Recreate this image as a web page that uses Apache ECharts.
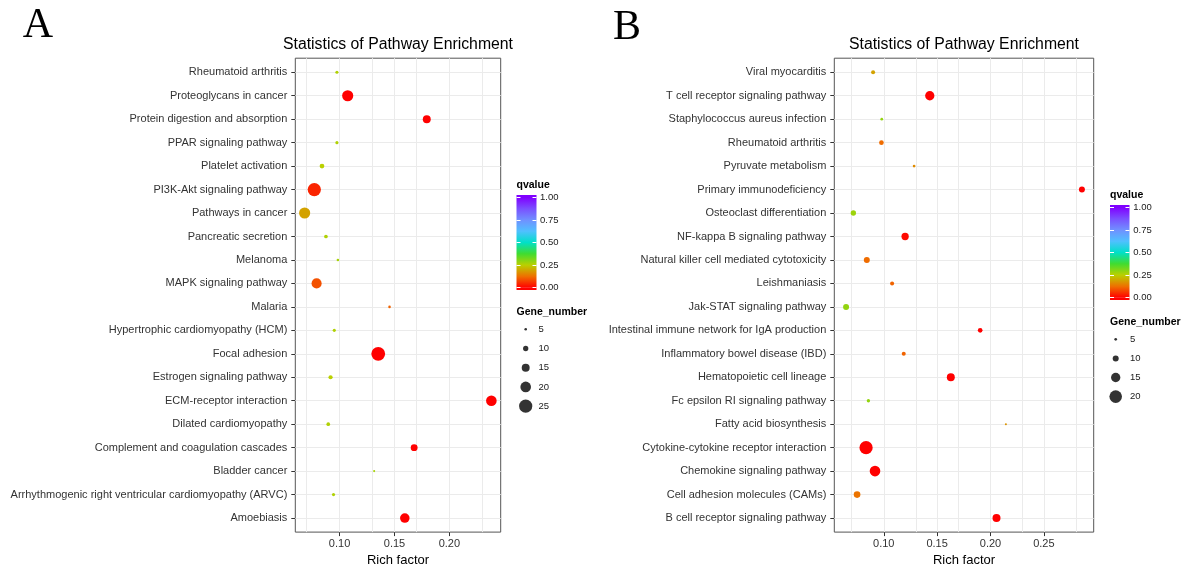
<!DOCTYPE html>
<html><head><meta charset="utf-8">
<script src="https://cdn.jsdelivr.net/npm/echarts@6/dist/echarts.min.js"></script>
<style>html,body{margin:0;padding:0;background:#fff}#c{width:1183px;height:572px}</style>
</head><body><div id="c"></div>
<script>
// ---------- Panel A data (top to bottom as shown) ----------
const categoriesA = [
  'Rheumatoid arthritis','Proteoglycans in cancer','Protein digestion and absorption',
  'PPAR signaling pathway','Platelet activation','PI3K-Akt signaling pathway',
  'Pathways in cancer','Pancreatic secretion','Melanoma','MAPK signaling pathway',
  'Malaria','Hypertrophic cardiomyopathy (HCM)','Focal adhesion','Estrogen signaling pathway',
  'ECM-receptor interaction','Dilated cardiomyopathy','Complement and coagulation cascades',
  'Bladder cancer','Arrhythmogenic right ventricular cardiomyopathy (ARVC)','Amoebiasis'
];
const richFactorA = [0.0976,0.1074,0.1794,0.0976,0.0840,0.0770,0.0682,0.0876,0.0985,0.0791,
                     0.1455,0.0952,0.1352,0.0918,0.2382,0.0897,0.1679,0.1315,0.0945,0.1594];
const geneNumberA = [6,21,15,6,9,25,21,7,5,19, 5,6,26,8,20,7,13,4,6,18];
const qvalueA     = [0.26,0.0,0.0,0.26,0.25,0.04,0.19,0.26,0.27,0.09,
                     0.11,0.26,0.0,0.25,0.0,0.26,0.0,0.27,0.26,0.0];

// ---------- Panel B data ----------
const categoriesB = [
  'Viral myocarditis','T cell receptor signaling pathway','Staphylococcus aureus infection',
  'Rheumatoid arthritis','Pyruvate metabolism','Primary immunodeficiency',
  'Osteoclast differentiation','NF-kappa B signaling pathway','Natural killer cell mediated cytotoxicity',
  'Leishmaniasis','Jak-STAT signaling pathway','Intestinal immune network for IgA production',
  'Inflammatory bowel disease (IBD)','Hematopoietic cell lineage','Fc epsilon RI signaling pathway',
  'Fatty acid biosynthesis','Cytokine-cytokine receptor interaction','Chemokine signaling pathway',
  'Cell adhesion molecules (CAMs)','B cell receptor signaling pathway'
];
const richFactorB = [0.0900,0.1431,0.0981,0.0978,0.1284,0.2856,0.0715,0.1200,0.0841,0.1078,
                     0.0647,0.1903,0.1187,0.1628,0.0856,0.2144,0.0834,0.0918,0.0750,0.2056];
const geneNumberB = [7,15,5,8,5,10,9,12,10,7, 10,8,7,13,6,4,21,17,11,13];
const qvalueB     = [0.19,0.0,0.29,0.12,0.16,0.0,0.28,0.01,0.12,0.11,
                     0.29,0.0,0.11,0.0,0.29,0.17,0.0,0.0,0.13,0.0];

// ---------- tick / legend labels ----------
const xTicksA = [0.10,0.15,0.20];
const xTicksB = [0.10,0.15,0.20,0.25];
const xGridA = [0.075,0.10,0.125,0.15,0.175,0.20,0.225];
const xGridB = [0.075,0.10,0.125,0.15,0.175,0.20,0.225,0.25,0.275];
const qTicks = [0,0.25,0.5,0.75,1];
const sizeBreaksA = [5,10,15,20,25];
const sizeBreaksB = [5,10,15,20];

// ---------- styles ----------
const qColors = ['#FF0000','#EE7000','#BAD000','#40DC30','#00E0C8','#50C0FF','#7090FF','#7A50FF','#8000FF'];
const FONT = 'Liberation Sans';
const AXIS_TXT = '#333';
function sizeScale(g0, d0, g1, d1){ return g => Math.max(1.5, d0 + (g - g0) * (d1 - d0) / (g1 - g0)); }
const sizeA = sizeScale(5, 2.6, 25, 13.3);
const sizeB = sizeScale(5, 2.7, 20, 12.6);
function expand(vals){ const lo=Math.min(...vals), hi=Math.max(...vals), r=hi-lo; return [lo-0.05*r, hi+0.05*r]; }
const [xMinA, xMaxA] = expand(richFactorA);
const [xMinB, xMaxB] = expand(richFactorB);
const nA = categoriesA.length, nB = categoriesB.length;
const rowsA = categoriesA.map((c,i)=>i), rowsB = categoriesB.map((c,i)=>i);
const Q_PAD = 0.5/19;

function mainX(gi, mn, mx, ticks){
  return { type:'value', gridIndex:gi, min:mn, max:mx,
    axisLine:{show:false,onZero:false}, splitLine:{show:false},
    axisTick:{show:true,length:4,lineStyle:{color:AXIS_TXT},customValues:ticks},
    axisLabel:{customValues:ticks, formatter:v=>ticks.some(t=>Math.abs(t-v)<1e-9)?v.toFixed(2):'',
      margin:6,fontSize:11,color:AXIS_TXT,fontFamily:FONT},
    name:'Rich factor', nameLocation:'middle', nameGap:19,
    nameTextStyle:{fontSize:13,color:'#000',fontFamily:FONT} };
}
function mainY(gi, cats, rows){
  const n = cats.length;
  return { type:'value', gridIndex:gi, min:-0.6, max:n-1+0.6,
    axisLine:{show:false,onZero:false}, splitLine:{show:false},
    axisTick:{show:true,length:4,lineStyle:{color:AXIS_TXT},customValues:rows},
    axisLabel:{customValues:rows, formatter:v=>(Number.isInteger(v)&&v>=0&&v<n)?cats[n-1-v]:'',
      margin:8,fontSize:11,color:AXIS_TXT,fontFamily:FONT} };
}
function mainSeries(gi, cats, rf, gn, qv, sz){
  const n = cats.length;
  return { type:'scatter', xAxisIndex:gi, yAxisIndex:gi, z:3, symbol:'circle', silent:true,
    data: cats.map((c,i)=>[rf[i], n-1-i, qv[i], gn[i]]),
    symbolSize: v => sz(v[3]), itemStyle:{opacity:1} };
}
function gridSeries(gi, xs, rows){
  return { type:'scatter', xAxisIndex:gi, yAxisIndex:gi, data:[], z:1, silent:true,
    markLine:{ silent:true, symbol:['none','none'], label:{show:false}, z:1, animation:false,
      lineStyle:{color:'#EBEBEB',width:1,type:'solid'}, emphasis:{disabled:true},
      data: xs.map(v=>({xAxis:v})).concat(rows.map(r=>({yAxis:r}))) } };
}
function cbarGradient(){
  const stops = qColors.map((c,i)=>({offset:(i/(qColors.length-1))/(1+Q_PAD), color:c}));
  stops.push({offset:1,color:qColors[qColors.length-1]});
  return {type:'linear',x:0,y:1,x2:0,y2:0,colorStops:stops};
}
function cbarY(gi, pos, labels, margin){
  return { type:'value', gridIndex:gi, min:-Q_PAD, max:1+Q_PAD, position:pos, z:10,
    axisLine:{show:false}, splitLine:{show:false},
    axisTick:{show:true,inside:true,length:4,lineStyle:{color:'#fff',width:1},customValues:qTicks},
    axisLabel:{show:labels, customValues:qTicks, formatter:v=>v.toFixed(2), margin:margin,
      fontSize:9.5,color:'#1a1a1a',fontFamily:FONT} };
}
function sizeY(gi, breaks){
  return { type:'category', gridIndex:gi, data:breaks.map(String), inverse:true, position:'right',
    axisLine:{show:false}, axisTick:{show:false}, splitLine:{show:false},
    axisLabel:{margin:3,fontSize:9.5,color:'#1a1a1a',fontFamily:FONT} };
}
function hiddenX(gi, cat){
  return cat ? {type:'category',gridIndex:gi,data:['q'],show:false,boundaryGap:true}
             : {type:'value',gridIndex:gi,min:0,max:1,show:false};
}
function title(text, x, y, size, weight, align, family){
  return { text, left:x, top:y, padding:0, textAlign:align, textVerticalAlign:'middle',
    textStyle:{fontSize:size, fontWeight:weight, color:'#000', fontFamily:family||FONT} };
}

const option = {
  animation:false,
  backgroundColor:'#fff',
  textStyle:{fontFamily:FONT},
  title:[
    title('A', 38, 26, 42, 'normal', 'center', 'Liberation Serif'),
    title('B', 627, 27.5, 42, 'normal', 'center', 'Liberation Serif'),
    title('Statistics of Pathway Enrichment', 398, 45, 15.8, 'normal', 'center'),
    title('Statistics of Pathway Enrichment', 964, 45, 15.8, 'normal', 'center'),
    title('qvalue', 516.5, 185, 10.5, 'bold', 'left'),
    title('Gene_number', 516.5, 311.7, 10.5, 'bold', 'left'),
    title('qvalue', 1110, 195, 10.5, 'bold', 'left'),
    title('Gene_number', 1110, 321.7, 10.5, 'bold', 'left')
  ],
  grid:[
    {left:295.3, top:58.2, width:205.4, height:480, show:true, borderColor:'#555', borderWidth:1, backgroundColor:'#fff'},
    {left:834.3, top:58.2, width:259.4, height:480, show:true, borderColor:'#555', borderWidth:1, backgroundColor:'#fff'},
    {left:516.5, top:195, width:20, height:95},
    {left:516, top:319.7, width:19.4, height:96},
    {left:1110, top:205, width:19.5, height:95},
    {left:1104.4, top:329.75, width:22.6, height:76.4}
  ],
  xAxis:[ mainX(0,xMinA,xMaxA,xTicksA), mainX(1,xMinB,xMaxB,xTicksB),
          hiddenX(2,true), hiddenX(3,false), hiddenX(4,true), hiddenX(5,false) ],
  yAxis:[ mainY(0,categoriesA,rowsA), mainY(1,categoriesB,rowsB),
          cbarY(2,'left',false,3), cbarY(2,'right',true,3.5), sizeY(3,sizeBreaksA),
          cbarY(4,'left',false,3), cbarY(4,'right',true,3.8), sizeY(5,sizeBreaksB) ],
  visualMap:[{type:'continuous', show:false, seriesIndex:[0,1], dimension:2, min:0, max:1,
    inRange:{color:qColors}}],
  series:[
    mainSeries(0,categoriesA,richFactorA,geneNumberA,qvalueA,sizeA),
    mainSeries(1,categoriesB,richFactorB,geneNumberB,qvalueB,sizeB),
    gridSeries(0,xGridA,rowsA),
    gridSeries(1,xGridB,rowsB),
    {type:'bar',xAxisIndex:2,yAxisIndex:2,stack:'qa',barWidth:'100%',data:[1+Q_PAD],itemStyle:{color:cbarGradient()},silent:true},
    {type:'bar',xAxisIndex:2,yAxisIndex:2,stack:'qa',barWidth:'100%',data:[-Q_PAD],itemStyle:{color:qColors[0]},silent:true},
    {type:'scatter',xAxisIndex:3,yAxisIndex:4,symbol:'circle',silent:true,itemStyle:{color:'#000'},
     data:sizeBreaksA.map((g,i)=>[0.5,i,g]), symbolSize:v=>sizeA(v[2])},
    {type:'bar',xAxisIndex:4,yAxisIndex:5,stack:'qb',barWidth:'100%',data:[1+Q_PAD],itemStyle:{color:cbarGradient()},silent:true},
    {type:'bar',xAxisIndex:4,yAxisIndex:5,stack:'qb',barWidth:'100%',data:[-Q_PAD],itemStyle:{color:qColors[0]},silent:true},
    {type:'scatter',xAxisIndex:5,yAxisIndex:7,symbol:'circle',silent:true,itemStyle:{color:'#000'},
     data:sizeBreaksB.map((g,i)=>[0.5,i,g]), symbolSize:v=>sizeB(v[2])}
  ]
};
const chart = echarts.init(document.getElementById('c'), null, {renderer:'canvas'});
chart.setOption(option);
</script>
</body></html>
